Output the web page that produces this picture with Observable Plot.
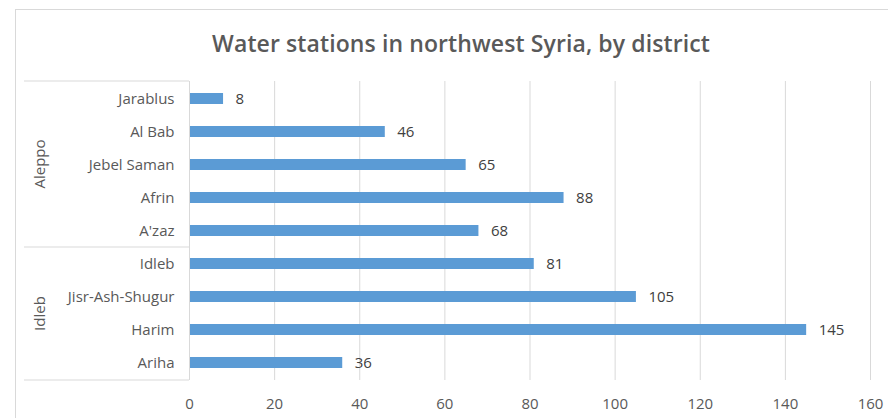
<!DOCTYPE html>
<html><head><meta charset="utf-8">
<script src="https://cdn.jsdelivr.net/npm/d3@7"></script>
<script src="https://cdn.jsdelivr.net/npm/@observablehq/plot@0.6"></script>
<style>
body{margin:0;background:#fff;}
#wrap{position:relative;width:888px;height:418px;overflow:hidden;font-family:"Open Sans",sans-serif;background:#fff;}
#border{position:absolute;left:15px;top:9px;width:1000px;height:1000px;border:1px solid #d9d9d9;}
#title{position:absolute;left:0;top:28px;width:922px;text-align:center;font-size:23px;line-height:30px;color:#595959;font-weight:600;letter-spacing:0.1px;}
#chart{position:absolute;left:0;top:70px;}
</style></head>
<body>
<div id="wrap"><div id="border"></div><div id="title">Water stations in northwest Syria, by district</div><div id="chart"></div></div>
<script>
const regions = ["Aleppo","Aleppo","Aleppo","Aleppo","Aleppo","Idleb","Idleb","Idleb","Idleb"];
const districts = ["Jarablus","Al Bab","Jebel Saman","Afrin","A'zaz","Idleb","Jisr-Ash-Shugur","Harim","Ariha"];
const stations = [8,46,65,88,68,81,105,145,36];
const xTicks = [0,20,40,60,80,100,120,140,160];

const data = districts.map((d,i)=>({district:d, region:regions[i], value:stations[i]}));

const plot = Plot.plot({
  width: 888, height: 348,
  marginLeft: 189, marginRight: 18, marginTop: 11, marginBottom: 38,
  style: {fontFamily: "'Open Sans', sans-serif", fontSize: "15px", color: "#595959", background: "transparent", overflow: "visible"},
  x: {domain: [0,160], ticks: xTicks, tickSize: 0, tickPadding: 18, label: null},
  y: {domain: districts, paddingInner: 0.67, paddingOuter: 0.335, align: 0.5, tickSize: 0, tickPadding: 15, label: null},
  marks: [
    Plot.gridX(xTicks, {stroke: "#d9d9d9", strokeOpacity: 1}),
    Plot.barX(data, {x: "value", y: "district", fill: "#5b9bd5"}),
    Plot.text(data, {x: "value", y: "district", text: d => String(d.value), textAnchor: "start", dx: 12, fill: "#404040", fontSize: 15}),
    Plot.ruleX([0], {stroke: "#d9d9d9", strokeOpacity: 1})
  ]
});
document.getElementById("chart").appendChild(plot);

// group (region) bracket lines and labels, positioned from Plot's scales
const ys = plot.scale("y"), xs = plot.scale("x");
const bw = ys.bandwidth;
const [r0, r1] = ys.range;
const bound = i => i === 0 ? r0 : i === districts.length ? r1 : (ys.apply(districts[i-1]) + bw + ys.apply(districts[i])) / 2;
const x0 = xs.apply(0);
const svg = d3.select(plot);
const g = svg.append("g");
const groupNames = [...new Set(regions)];
const bounds = [0];
groupNames.forEach(name => { bounds.push(regions.lastIndexOf(name) + 1); });
bounds.forEach(i => {
  g.append("line").attr("x1", 24).attr("x2", x0).attr("y1", bound(i)).attr("y2", bound(i)).attr("stroke", "#d9d9d9");
});
groupNames.forEach(name => {
  const a = regions.indexOf(name), b = regions.lastIndexOf(name) + 1;
  const mid = (bound(a) + bound(b)) / 2;
  g.append("text").attr("transform", `translate(39,${mid}) rotate(-90)`)
    .attr("text-anchor", "middle").attr("dominant-baseline", "central")
    .attr("fill", "#595959").attr("font-size", 15).text(name);
});
</script>
</body></html>
